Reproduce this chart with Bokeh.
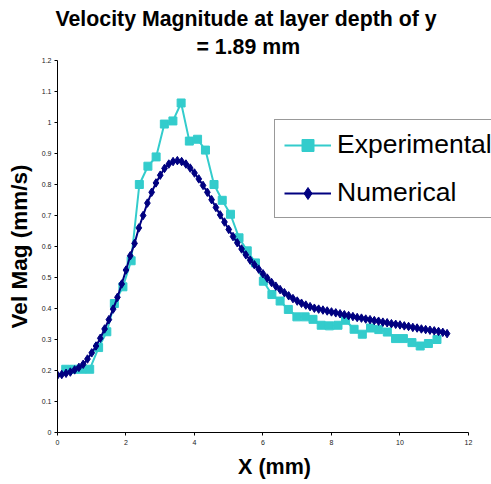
from bokeh.plotting import figure
from bokeh.models import (Legend, LegendItem, FixedTicker, Title, Range1d)
from bokeh.embed import file_html
from bokeh.resources import INLINE

x_exp = [0.24, 0.48, 0.71, 0.94, 1.20, 1.44, 1.66, 1.91, 2.15, 2.39, 2.64, 2.88,
         3.12, 3.37, 3.61, 3.85, 4.09, 4.32, 4.57, 4.81, 5.05, 5.30, 5.54, 5.78,
         6.01, 6.26, 6.50, 6.74, 6.99, 7.23, 7.46, 7.70, 7.94, 8.19, 8.41, 8.66,
         8.90, 9.14, 9.38, 9.63, 9.87, 10.10, 10.35, 10.59, 10.83, 11.08]
y_exp = [0.204, 0.204, 0.204, 0.204, 0.274, 0.325, 0.416, 0.470, 0.554, 0.800, 0.859, 0.889,
         0.995, 1.005, 1.063, 0.940, 0.946, 0.911, 0.800, 0.749, 0.704, 0.628, 0.586, 0.547,
         0.488, 0.445, 0.424, 0.397, 0.373, 0.373, 0.365, 0.346, 0.344, 0.346, 0.362, 0.333,
         0.317, 0.337, 0.332, 0.324, 0.303, 0.303, 0.290, 0.279, 0.287, 0.300]

x_num = [0.0, 0.125, 0.25, 0.375, 0.5, 0.625, 0.75, 0.875, 1.0, 1.125, 1.25, 1.375,
         1.5, 1.625, 1.75, 1.875, 2.0, 2.125, 2.25, 2.375, 2.5, 2.625, 2.75, 2.875,
         3.0, 3.125, 3.25, 3.375, 3.5, 3.625, 3.75, 3.875, 4.0, 4.125, 4.25, 4.375,
         4.5, 4.625, 4.75, 4.875, 5.0, 5.125, 5.25, 5.375, 5.5, 5.625, 5.75, 5.875,
         6.0, 6.125, 6.25, 6.375, 6.5, 6.625, 6.75, 6.875, 7.0, 7.125, 7.25, 7.375,
         7.5, 7.625, 7.75, 7.875, 8.0, 8.125, 8.25, 8.375, 8.5, 8.625, 8.75, 8.875,
         9.0, 9.125, 9.25, 9.375, 9.5, 9.625, 9.75, 9.875, 10.0, 10.125, 10.25, 10.375,
         10.5, 10.625, 10.75, 10.875, 11.0, 11.125, 11.25, 11.375]
y_num = [0.185, 0.187, 0.191, 0.195, 0.202, 0.210, 0.220, 0.237, 0.257, 0.279, 0.304, 0.334,
         0.364, 0.398, 0.436, 0.479, 0.524, 0.570, 0.610, 0.660, 0.700, 0.740, 0.775, 0.805,
         0.830, 0.852, 0.866, 0.874, 0.877, 0.874, 0.866, 0.853, 0.837, 0.818, 0.797, 0.775,
         0.751, 0.726, 0.702, 0.679, 0.655, 0.632, 0.612, 0.592, 0.573, 0.556, 0.541, 0.527,
         0.512, 0.498, 0.484, 0.472, 0.461, 0.451, 0.441, 0.432, 0.424, 0.417, 0.411, 0.406,
         0.401, 0.398, 0.395, 0.392, 0.389, 0.386, 0.383, 0.380, 0.377, 0.374, 0.371, 0.369,
         0.366, 0.364, 0.361, 0.359, 0.356, 0.354, 0.351, 0.349, 0.347, 0.344, 0.342, 0.339,
         0.337, 0.334, 0.332, 0.330, 0.328, 0.326, 0.323, 0.319]

x_ticks = [0, 2, 4, 6, 8, 10, 12]
y_ticks = [0, 0.1, 0.2, 0.3, 0.4, 0.5, 0.6, 0.7, 0.8, 0.9, 1.0, 1.1, 1.2]
y_tick_labels = ["0", "0.1", "0.2", "0.3", "0.4", "0.5", "0.6", "0.7", "0.8", "0.9", "1", "1.1", "1.2"]

title_1 = "Velocity Magnitude at layer depth of y"
title_2 = "= 1.89 mm"

FONT = "Liberation Sans"
EXP_C = "#33CCCC"
NUM_C = "#000080"

# frame spans x 0..12 over 411 px; extended to the canvas edge so the legend can overflow
p = figure(width=491, height=484, output_backend="svg", toolbar_location=None,
           x_range=Range1d(0, 12.672), y_range=Range1d(0, 1.2),
           min_border_left=57, min_border_right=0, min_border_top=60, min_border_bottom=52)
p.outline_line_color = None
p.grid.visible = False

p.add_layout(Title(text=title_2, align="left", offset=139, text_font=FONT, text_color="black",
                   text_font_size="21.3px", text_font_style="bold", standoff=4), "above")
p.add_layout(Title(text=title_1, align="left", offset=-2, text_font=FONT, text_color="black",
                   text_font_size="21.3px", text_font_style="bold", standoff=0), "above")

for ax in (p.xaxis[0], p.yaxis[0]):
    ax.axis_line_color = "black"
    ax.major_tick_line_color = "black"
    ax.major_tick_in = 0
    ax.major_tick_out = 3
    ax.minor_tick_line_color = None
    ax.major_label_text_font = FONT
    ax.major_label_text_font_size = "7px"
    ax.major_label_text_color = "#222222"
    ax.axis_label_text_font = FONT
    ax.axis_label_text_font_style = "bold"
    ax.axis_label_text_color = "black"

p.xaxis.bounds = (0, 12)
p.xaxis.ticker = FixedTicker(ticks=x_ticks)
p.yaxis.ticker = FixedTicker(ticks=y_ticks)
p.yaxis.major_label_overrides = {t: l for t, l in zip(y_ticks, y_tick_labels)}
p.xaxis.axis_label = "X (mm)"
p.yaxis.axis_label = "Vel Mag (mm/s)"
p.xaxis.axis_label_text_font_size = "21.5px"
p.yaxis.axis_label_text_font_size = "22.5px"
p.xaxis.major_label_standoff = 4
p.yaxis.major_label_standoff = 3
p.xaxis.axis_label_standoff = 7
p.yaxis.axis_label_standoff = 7

l_exp = p.line(x_exp, y_exp, line_color=EXP_C, line_width=2)
s_exp = p.scatter(x_exp, y_exp, marker="square", size=8, fill_color=EXP_C, line_color=EXP_C)
l_num = p.line(x_num, y_num, line_color=NUM_C, line_width=2)
s_num = p.scatter(x_num, y_num, marker="diamond", size=8.5, fill_color=NUM_C, line_color=NUM_C)

legend = Legend(items=[LegendItem(label="Experimental", renderers=[l_exp, s_exp]),
                       LegendItem(label="Numerical", renderers=[l_num, s_num])],
                location=(217, 214), orientation="vertical",
                label_text_font=FONT, label_text_font_size="26.5px", label_text_color="black",
                glyph_width=47, glyph_height=30, label_height=30, label_width=190,
                label_standoff=6, spacing=17, padding=9, margin=0,
                border_line_color="#333333", border_line_width=1,
                background_fill_color="white", background_fill_alpha=1.0)
p.add_layout(legend, "center")

open("out.html", "w").write(file_html(p, INLINE))
